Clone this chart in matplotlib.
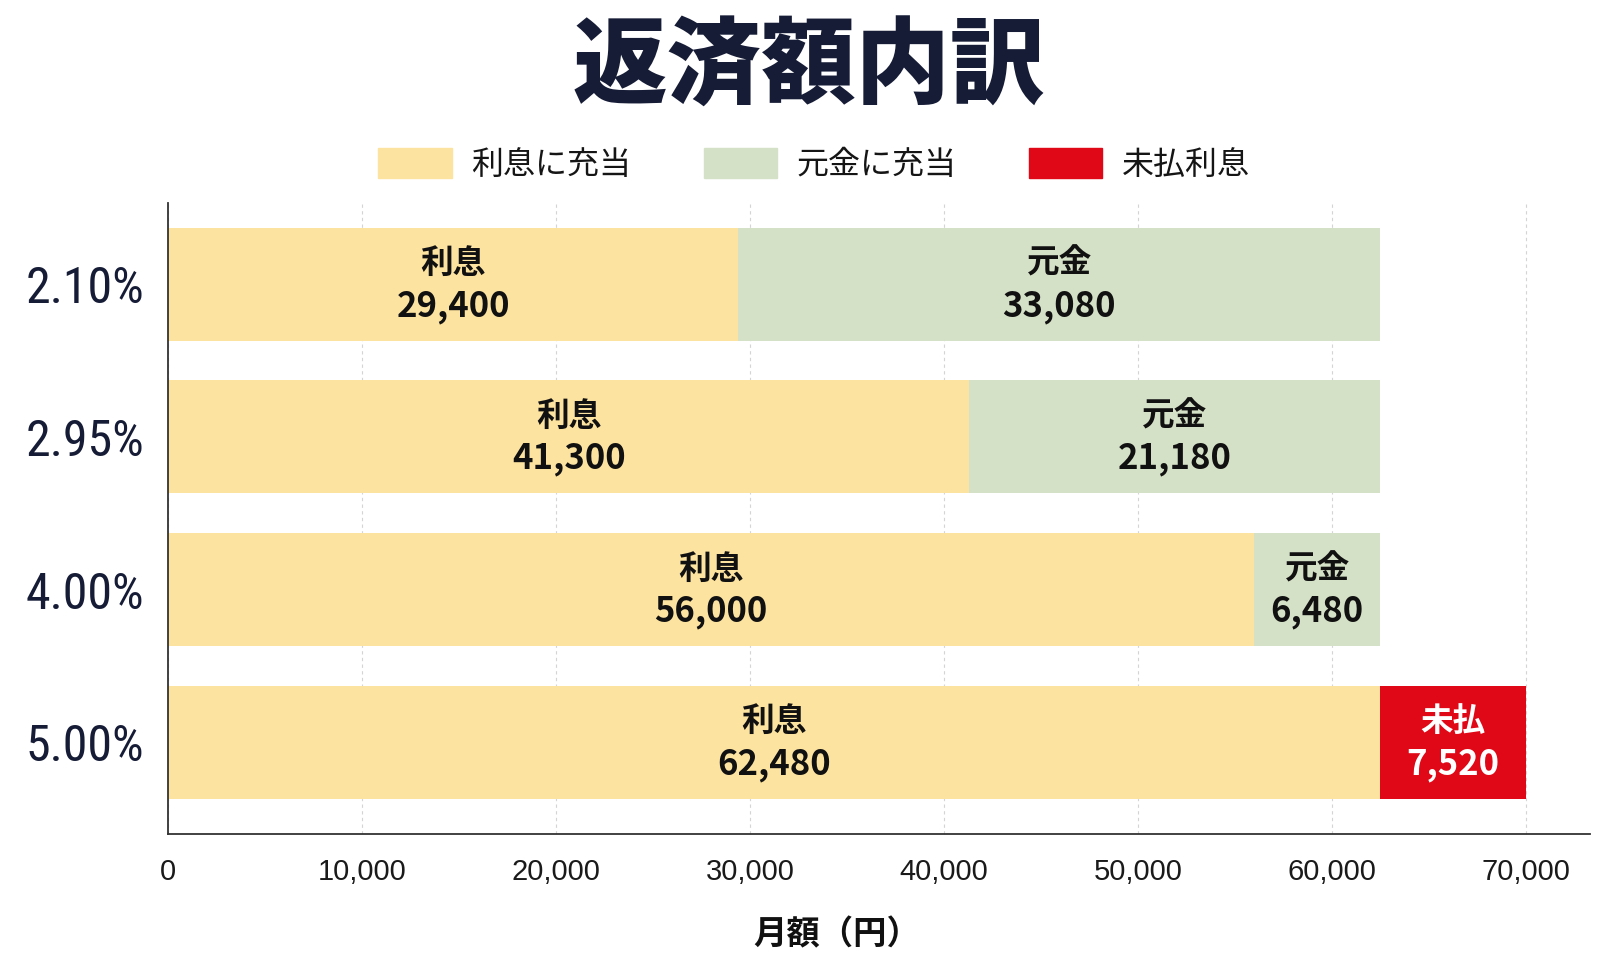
import numpy as np
import matplotlib
matplotlib.use('Agg')
import matplotlib.pyplot as plt
from matplotlib import font_manager
from matplotlib.patches import Patch

plt.rcParams['font.family'] = ['Noto Sans CJK JP', 'DejaVu Sans']

# data
rates = ['2.10%', '2.95%', '4.00%', '5.00%']
interest = [29400, 41300, 56000, 62480]
principal = [33080, 21180, 6480, 0]
unpaid = [0, 0, 0, 7520]
xticks = [0, 10000, 20000, 30000, 40000, 50000, 60000, 70000]

c_int = '#fde3a0'
c_pri = '#d5e1c6'
c_unp = '#e00716'
navy = '#161c36'

# pick a narrow face for the rate labels if one is around
fonts = font_manager.fontManager.ttflist
names = {f.name for f in fonts}
narrow = dict(family=['Liberation Sans', 'DejaVu Sans'], fontsize=32)
for cand in ['Roboto Condensed', 'Liberation Sans Narrow', 'Open Sans Condensed',
             'Noto Sans Condensed', 'Arial Narrow']:
    if cand in names:
        narrow = dict(family=[cand, 'DejaVu Sans'], fontsize=36)
        break
else:
    cond = [f for f in fonts if f.stretch in ('condensed', 'semi-condensed')
            and 'Serif' not in f.name and 'Mono' not in f.name]
    if cond:
        narrow = dict(family=[cond[0].name, 'DejaVu Sans'], fontsize=36,
                      fontstretch=cond[0].stretch)

fig = plt.figure(figsize=(16.18, 9.72), dpi=100)
ax = fig.add_axes([0.1038, 0.142, 0.8789, 0.649])

y = np.arange(len(rates))
h = 0.74
ax.barh(y, interest, height=h, color=c_int, zorder=2)
ax.barh(y, principal, left=interest, height=h, color=c_pri, zorder=2)
ax.barh(y, unpaid, left=np.array(interest) + np.array(principal), height=h,
        color=c_unp, zorder=2)

def seg_label(x, yy, name, val, color='#111111'):
    ax.text(x, yy - 0.135, name, ha='center', va='center', fontsize=23.5,
            fontweight='bold', color=color, zorder=3)
    ax.text(x, yy + 0.145, f'{val:,}', ha='center', va='center', fontsize=25,
            fontweight='bold', color=color, zorder=3)

for i in range(len(rates)):
    seg_label(interest[i] / 2, y[i], '利息', interest[i])
    if principal[i] > 0:
        seg_label(interest[i] + principal[i] / 2, y[i], '元金', principal[i])
    if unpaid[i] > 0:
        seg_label(interest[i] + principal[i] + unpaid[i] / 2, y[i], '未払',
                  unpaid[i], color='white')

ax.set_xlim(0, 73300)
ax.set_ylim(3.60, -0.53)
ax.set_xticks(xticks)
ax.set_xticklabels([f'{v:,}' for v in xticks], fontsize=21, color='#1a1a1a',
                   family=['Liberation Sans', 'DejaVu Sans'])
ax.set_yticks(y)
ax.set_yticklabels(rates, color=navy, **narrow)
ax.tick_params(axis='both', length=0)
ax.tick_params(axis='y', pad=17)
ax.tick_params(axis='x', pad=17)

ax.grid(axis='x', color='#d4d4d4', linestyle=(0, (3, 3)), linewidth=0.8, zorder=0)
ax.set_axisbelow(True)
for s in ['top', 'right']:
    ax.spines[s].set_visible(False)
for s in ['left', 'bottom']:
    ax.spines[s].set_color('#333333')
    ax.spines[s].set_linewidth(1.3)

ax.set_xlabel('月額（円）', fontsize=24, fontweight='bold', color='#111111')
ax.xaxis.set_label_coords(0.470, -0.134)

fig.text(0.5, 0.929, '返済額内訳', ha='center', va='center', fontsize=68,
         fontweight='heavy', color=navy)

handles = [Patch(color=c_int, label='利息に充当'),
           Patch(color=c_pri, label='元金に充当'),
           Patch(color=c_unp, label='未払利息')]
leg = fig.legend(handles=handles, loc='center', bbox_to_anchor=(0.503, 0.831),
                 ncol=3, frameon=False, fontsize=23, handlelength=2.3,
                 handleheight=1.1, handletextpad=0.6, columnspacing=2.28)
for t in leg.get_texts():
    t.set_color('#151515')

fig.savefig('out.png', dpi=100)
